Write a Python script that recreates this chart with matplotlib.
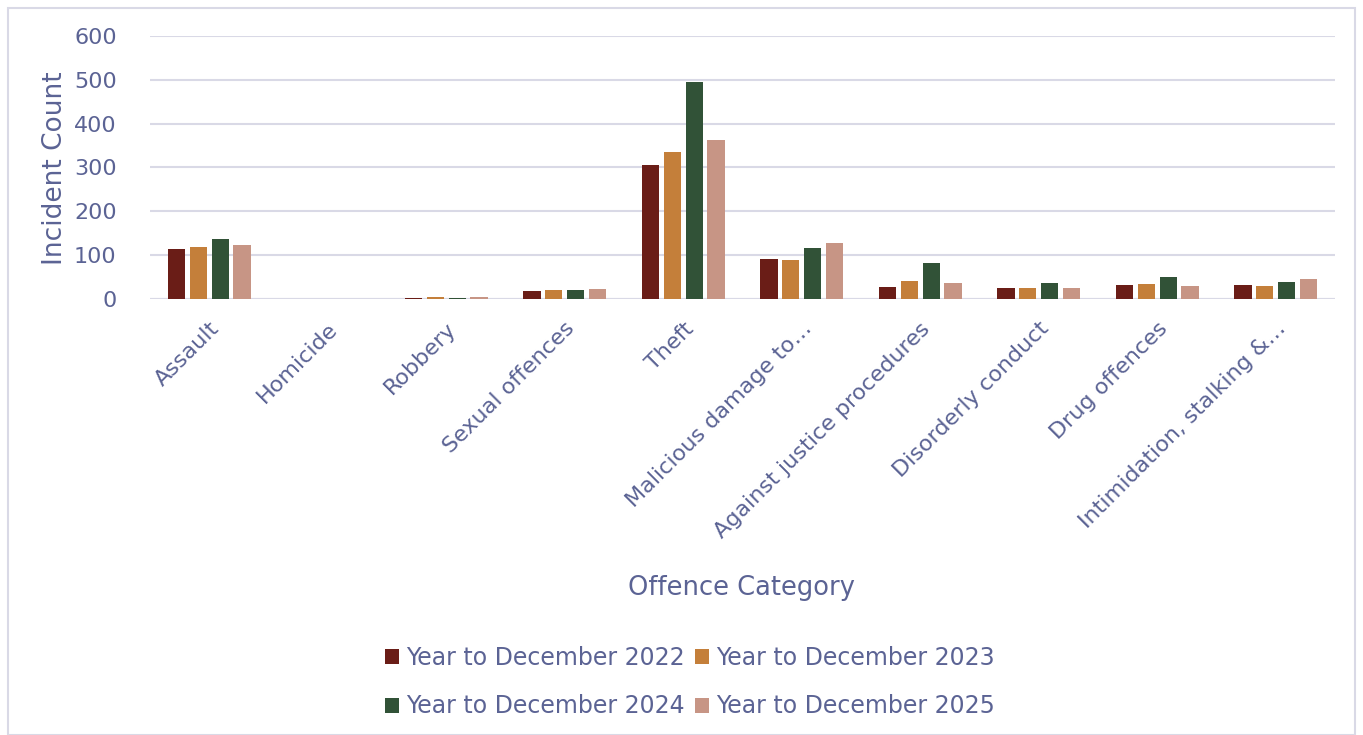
import matplotlib
matplotlib.use("Agg")
import matplotlib.pyplot as plt
import numpy as np
from matplotlib.patches import Rectangle

categories = ["Assault", "Homicide", "Robbery", "Sexual offences", "Theft",
              "Malicious damage to…", "Against justice procedures",
              "Disorderly conduct", "Drug offences", "Intimidation, stalking &…"]
series_names = ["Year to December 2022", "Year to December 2023",
                "Year to December 2024", "Year to December 2025"]
y2022 = [114, 0, 3, 19, 305, 92, 27, 24, 33, 33]
y2023 = [119, 0, 5, 20, 335, 90, 40, 24, 34, 30]
y2024 = [136, 0, 3, 20, 495, 116, 81, 36, 51, 39]
y2025 = [124, 0, 5, 23, 363, 128, 36, 24, 30, 46]
yticks = [0, 100, 200, 300, 400, 500, 600]

colors = ["#6a1d17", "#c47f3a", "#315237", "#c79585"]
txt = "#5b6394"
grid = "#d9d9e6"

plt.rcParams['font.family'] = ['DejaVu Sans']

fig = plt.figure(figsize=(13.63, 7.35), dpi=100)
ax = fig.add_axes([150/1363, 1-299/735, 1185/1363, 263/735])

x = np.arange(len(categories))
step = 0.184
bw = 0.145
data = [y2022, y2023, y2024, y2025]
handles = []
for i, (vals, c, name) in enumerate(zip(data, colors, series_names)):
    h = ax.bar(x + (i - 1.5) * step, vals, width=bw, color=c, linewidth=0,
               label=name, zorder=3)
    handles.append(h)

ax.set_xlim(-0.5, len(categories) - 0.5)
ax.set_ylim(0, 600)
ax.set_yticks(yticks)
ax.yaxis.grid(True, color=grid, linewidth=1.5, zorder=0)
for s in ax.spines.values():
    s.set_visible(False)
ax.axhline(0, color=grid, linewidth=1.5, zorder=2)
ax.tick_params(axis='y', length=0, colors=txt, labelsize=16, pad=24)
ax.tick_params(axis='x', length=0, colors=txt, labelsize=16, pad=14)
ax.set_xticks(x)
ax.set_xticklabels(categories, rotation=45, ha='right', rotation_mode='anchor')
ax.set_ylabel("Incident Count", color=txt, fontsize=19)
ax.yaxis.set_label_coords(68/1363, 1-168/735, transform=fig.transFigure)
ax.set_xlabel("Offence Category", color=txt, fontsize=18.5)
ax.xaxis.set_label_coords(741/1363, 1-575/735, transform=fig.transFigure)

order = [0, 2, 1, 3]
leg = fig.legend([handles[k] for k in order], [series_names[k] for k in order],
                 loc='center', bbox_to_anchor=(690/1363, 1-682/735), ncol=2,
                 frameon=False, fontsize=17, labelcolor=txt, handlelength=0.6,
                 handleheight=0.6, handletextpad=0.3, columnspacing=0.4,
                 labelspacing=1.05)

fig.patches.append(Rectangle((8/1363, 0), 1 - 16/1363, 1 - 8/735, transform=fig.transFigure,
                             fill=False, edgecolor=grid, linewidth=1.5))

fig.savefig("out.png", dpi=100)
